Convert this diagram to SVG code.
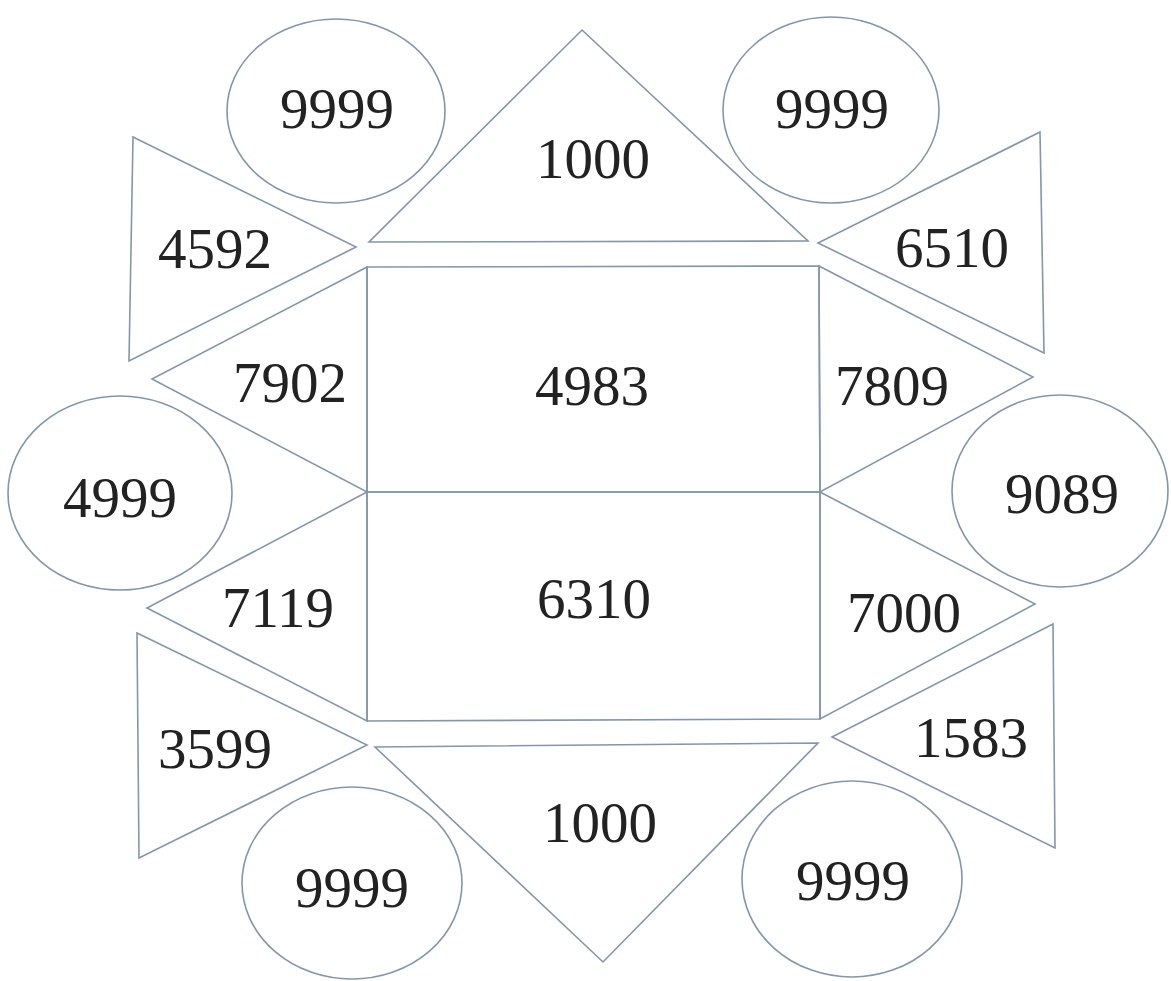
<svg xmlns="http://www.w3.org/2000/svg" width="1171" height="981" viewBox="0 0 1171 981">
<style>
.s{fill:none;stroke:#8496a8;stroke-width:1.6;stroke-linejoin:miter}
.t{font-family:"Liberation Serif","Times New Roman",serif;font-size:57px;fill:#222;text-anchor:middle}
</style>
<rect width="1171" height="981" fill="#fff"/>
<g id="connectors"></g>
<g id="rect-4983"><polygon class="s" points="367,267 819,266 820,492 367,492"/><text class="t" x="592" y="405">4983</text></g>
<g id="rect-6310"><polygon class="s" points="367,492 820,492 820,719 367,721"/><text class="t" x="594" y="618">6310</text></g>
<g id="tri-top-1000"><polygon class="s" points="582,30 808,241 369,242"/><text class="t" x="593" y="178">1000</text></g>
<g id="tri-bottom-1000"><polygon class="s" points="375,747 818,743 603,962"/><text class="t" x="600" y="842">1000</text></g>
<g id="tri-4592"><polygon class="s" points="133,137 356,247 129,361"/><text class="t" x="215" y="268">4592</text></g>
<g id="tri-6510"><polygon class="s" points="1040,132 818,243 1044,353"/><text class="t" x="952" y="267">6510</text></g>
<g id="tri-7902"><polygon class="s" points="367,267 152,379 367,492"/><text class="t" x="290" y="402">7902</text></g>
<g id="tri-7119"><polygon class="s" points="367,492 147,608 367,721"/><text class="t" x="278" y="627">7119</text></g>
<g id="tri-7809"><polygon class="s" points="819,266 1033,377 820,492"/><text class="t" x="892" y="405">7809</text></g>
<g id="tri-7000"><polygon class="s" points="820,492 1035,604 820,719"/><text class="t" x="904" y="632">7000</text></g>
<g id="tri-3599"><polygon class="s" points="137,633 367,745 139,858"/><text class="t" x="215" y="768">3599</text></g>
<g id="tri-1583"><polygon class="s" points="1053,624 832,737 1055,848"/><text class="t" x="971" y="757">1583</text></g>
<g id="ell-tl-9999"><ellipse class="s" cx="336" cy="111" rx="109" ry="92"/><text class="t" x="337" y="128">9999</text></g>
<g id="ell-tr-9999"><ellipse class="s" cx="831" cy="110" rx="108" ry="93"/><text class="t" x="832" y="128">9999</text></g>
<g id="ell-4999"><ellipse class="s" cx="120" cy="493" rx="112" ry="97"/><text class="t" x="120" y="517">4999</text></g>
<g id="ell-9089"><ellipse class="s" cx="1060" cy="491" rx="108" ry="96"/><text class="t" x="1062" y="513">9089</text></g>
<g id="ell-bl-9999"><ellipse class="s" cx="352" cy="883" rx="110" ry="96"/><text class="t" x="352" y="907">9999</text></g>
<g id="ell-br-9999"><ellipse class="s" cx="852" cy="879" rx="110" ry="98"/><text class="t" x="853" y="900">9999</text></g>
</svg>
